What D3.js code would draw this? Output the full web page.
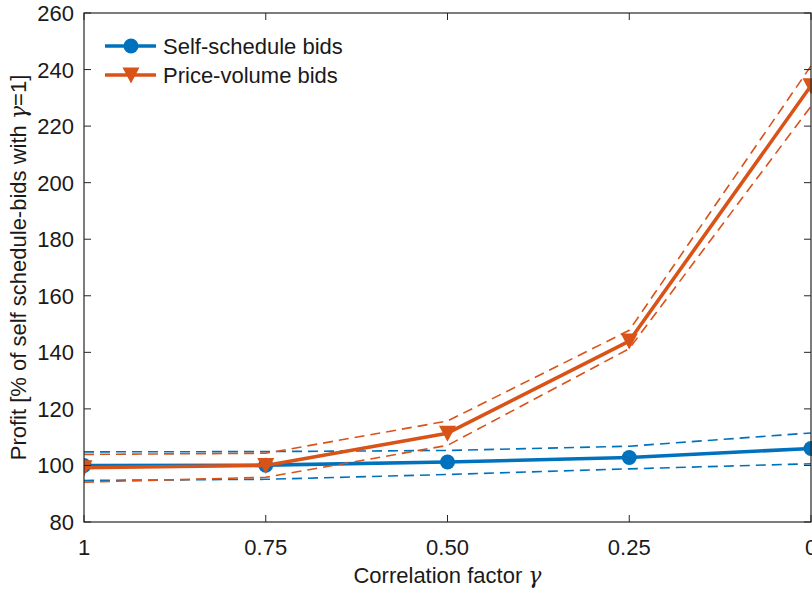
<!DOCTYPE html>
<html>
<head>
<meta charset="utf-8">
<script src="https://cdn.jsdelivr.net/npm/d3@7"></script>
<style>
  body { margin: 0; background: #fff; }
  text { font-family: "Liberation Sans", Arial, sans-serif; fill: #1a1a1a; }
  .gam { font-family: "DejaVu Serif", "Liberation Serif", serif; font-style: italic; }
</style>
</head>
<body>
<svg width="812" height="591"></svg>
<script>
// correlation factor categories (left to right)
var gammas = ["1", "0.75", "0.50", "0.25", "0"];
var yTicks = [80, 100, 120, 140, 160, 180, 200, 220, 240, 260];

var selfMean = [100, 100.1, 101.2, 102.8, 106];
var selfUpper = [104.8, 104.9, 105.3, 106.8, 111.5];
var selfLower = [94.7, 95.1, 96.8, 98.8, 100.6];

var pvMean = [99.2, 100, 111.4, 144, 234.3];
var pvUpper = [103.9, 104.3, 115.7, 147.8, 241.3];
var pvLower = [94.1, 95.8, 107.1, 141.3, 227];

var svg = d3.select("svg");
var pLeft = 84, pRight = 811, pTop = 13, pBottom = 522;
var axisCol = "#262626";
var blue = "#0072BD", orange = "#D95319";

var x = d3.scalePoint().domain(gammas).range([pLeft, pRight]);
var y = d3.scaleLinear().domain([80, 260]).range([pBottom, pTop]);

svg.append("defs").append("clipPath").attr("id", "clip")
  .append("rect").attr("x", pLeft).attr("y", pTop)
  .attr("width", pRight - pLeft + 1).attr("height", pBottom - pTop);

var plot = svg.append("g").attr("clip-path", "url(#clip)");

function line(vals) {
  return d3.line().x(function(d, i) { return x(gammas[i]); }).y(function(d) { return y(d); })(vals);
}

function triangle(cx, cy) {
  return "M" + (cx - 8.5) + "," + (cy - 7.5) + "L" + (cx + 8.5) + "," + (cy - 7.5) + "L" + cx + "," + (cy + 8.5) + "Z";
}

function drawSeries(mean, up, lo, col, marker) {
  [up, lo].forEach(function(v) {
    plot.append("path").attr("d", line(v)).attr("fill", "none")
      .attr("stroke", col).attr("stroke-width", 1.6).attr("stroke-dasharray", "10,6");
  });
  plot.append("path").attr("d", line(mean)).attr("fill", "none")
    .attr("stroke", col).attr("stroke-width", 3.6).attr("stroke-linejoin", "round");
  mean.forEach(function(v, i) {
    var cx = x(gammas[i]), cy = y(v);
    if (marker == "circle") {
      plot.append("circle").attr("cx", cx).attr("cy", cy).attr("r", 7.5).attr("fill", col);
    } else {
      plot.append("path").attr("d", triangle(cx, cy)).attr("fill", col);
    }
  });
}

drawSeries(selfMean, selfUpper, selfLower, blue, "circle");
drawSeries(pvMean, pvUpper, pvLower, orange, "tri");

// axes box
var ax = svg.append("g");
ax.append("rect").attr("x", pLeft).attr("y", pTop).attr("width", pRight - pLeft).attr("height", pBottom - pTop)
  .attr("fill", "none").attr("stroke", axisCol).attr("stroke-width", 1.2);

gammas.forEach(function(g) {
  var px = x(g);
  ax.append("line").attr("x1", px).attr("x2", px).attr("y1", pBottom).attr("y2", pBottom - 7).attr("stroke", axisCol);
  ax.append("line").attr("x1", px).attr("x2", px).attr("y1", pTop).attr("y2", pTop + 7).attr("stroke", axisCol);
  ax.append("text").attr("x", px).attr("y", 555).attr("text-anchor", "middle")
    .style("font-size", "22px").text(g);
});
yTicks.forEach(function(t) {
  var py = y(t);
  ax.append("line").attr("x1", pLeft).attr("x2", pLeft + 7).attr("y1", py).attr("y2", py).attr("stroke", axisCol);
  ax.append("line").attr("x1", pRight).attr("x2", pRight - 7).attr("y1", py).attr("y2", py).attr("stroke", axisCol);
  ax.append("text").attr("x", pLeft - 10).attr("y", py + 8).attr("text-anchor", "end")
    .style("font-size", "22px").text(t);
});

// axis labels
var xl = svg.append("text").attr("x", (pLeft + pRight) / 2).attr("y", 583).attr("text-anchor", "middle")
  .style("font-size", "22px");
xl.append("tspan").text("Correlation factor ");
xl.append("tspan").attr("class", "gam").text("γ");

var yl = svg.append("text").attr("transform", "translate(26," + ((pTop + pBottom) / 2) + ") rotate(-90)")
  .attr("text-anchor", "middle").style("font-size", "22px");
yl.append("tspan").text("Profit [% of self schedule-bids with ");
yl.append("tspan").attr("class", "gam").text("γ");
yl.append("tspan").text("=1]");

// legend
var legend = [{ name: "Self-schedule bids", col: blue, m: "circle" },
              { name: "Price-volume bids", col: orange, m: "tri" }];
legend.forEach(function(d, i) {
  var ly = 46 + i * 29;
  svg.append("line").attr("x1", 105).attr("x2", 156).attr("y1", ly).attr("y2", ly)
    .attr("stroke", d.col).attr("stroke-width", 3.6);
  if (d.m == "circle") svg.append("circle").attr("cx", 131).attr("cy", ly).attr("r", 7.5).attr("fill", d.col);
  else svg.append("path").attr("d", triangle(131, ly)).attr("fill", d.col);
  svg.append("text").attr("x", 163).attr("y", ly + 8).style("font-size", "22px").text(d.name);
});
</script>
</body>
</html>
